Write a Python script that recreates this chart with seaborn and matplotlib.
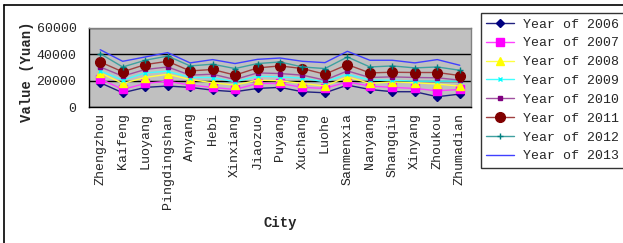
import matplotlib
matplotlib.use("Agg")
import matplotlib.pyplot as plt
from matplotlib.lines import Line2D
import seaborn as sns
import pandas as pd

cities = ["Zhengzhou", "Kaifeng", "Luoyang", "Pingdingshan", "Anyang", "Hebi",
          "Xinxiang", "Jiaozuo", "Puyang", "Xuchang", "Luohe", "Sanmenxia",
          "Nanyang", "Shangqiu", "Xinyang", "Zhoukou", "Zhumadian"]

y2006 = [18400, 10800, 14900, 15900, 14900, 12800, 11600, 14100, 14900, 11600, 10800, 16600, 13300, 11600, 11600, 7800, 9800]
y2007 = [21400, 13300, 17900, 19600, 16600, 14900, 13300, 17900, 17900, 14900, 14100, 19100, 15900, 14900, 14100, 12300, 13300]
y2008 = [25900, 17900, 22400, 24900, 20900, 18400, 16600, 20400, 19900, 17900, 15900, 22900, 17900, 19100, 18400, 17400, 15900]
y2009 = [27400, 20400, 25900, 27200, 22400, 22400, 19100, 23400, 22900, 21900, 19100, 24900, 20400, 20400, 19600, 19600, 19600]
y2010 = [30400, 23400, 28500, 30400, 24200, 24900, 20900, 25900, 25400, 24200, 20400, 27400, 22400, 22900, 22400, 22200, 20400]
y2011 = [34200, 26700, 32200, 34700, 27400, 28500, 24200, 29700, 31200, 29200, 24900, 32200, 25900, 26400, 26200, 26200, 23900]
y2012 = [40500, 30400, 35500, 38700, 31200, 32500, 29200, 33000, 34200, 30400, 29200, 38000, 30400, 31200, 29700, 30400, 27900]
y2013 = [43500, 34700, 38000, 41300, 33500, 36000, 33000, 36200, 37200, 34700, 33700, 42300, 35500, 35500, 33500, 36000, 31700]

series = {
    "Year of 2006": y2006, "Year of 2007": y2007, "Year of 2008": y2008,
    "Year of 2009": y2009, "Year of 2010": y2010, "Year of 2011": y2011,
    "Year of 2012": y2012, "Year of 2013": y2013,
}

# (line colour, marker colour, marker, marker size)
styles = {
    "Year of 2006": ("#202080", "#000080", "D", 4.5),
    "Year of 2007": ("#ff40ff", "#ff00ff", "s", 6),
    "Year of 2008": ("#ffff40", "#ffff00", "^", 6),
    "Year of 2009": ("#40ffff", "#00ffff", "x", 3.5),
    "Year of 2010": ("#a050a0", "#800080", "s", 3),
    "Year of 2011": ("#a04040", "#800000", "o", 7),
    "Year of 2012": ("#40a0a0", "#008080", "+", 4),
    "Year of 2013": ("#4040ff", "#0000ff", "", 0),
}

sns.set_style("white")
plt.rcParams["font.family"] = ["Liberation Mono", "DejaVu Sans Mono"]

fig = plt.figure(figsize=(6.23, 2.43), dpi=100)
ax = fig.add_axes([89 / 623, 1 - 107 / 243, 382 / 623, 79 / 243])
ax.set_facecolor("#c0c0c0")

handles = []
for name, vals in series.items():
    lc, mc, mk, ms = styles[name]
    df = pd.DataFrame({"City": cities, "Value": vals})
    sns.lineplot(data=df, x="City", y="Value", ax=ax, sort=False, color=lc,
                 marker=mk if mk else None, markersize=ms, markerfacecolor=mc,
                 markeredgecolor=mc, markeredgewidth=1, linewidth=1)
    handles.append(Line2D([], [], color=lc, marker=mk if mk else None,
                          markersize=ms, markerfacecolor=mc, markeredgecolor=mc,
                          linewidth=1, label=name))

ax.set_xlim(-0.5, len(cities) - 0.5)
ax.set_ylim(0, 60000)
ax.set_yticks([0, 20000, 40000, 60000])
ax.yaxis.grid(True, color="black", linewidth=1)
ax.set_axisbelow(True)
ax.set_xticks(range(len(cities)))
ax.set_xticklabels(cities, rotation=90, fontsize=9.5)
ax.set_xticks([i + 0.5 for i in range(len(cities) - 1)], minor=True)
ax.tick_params(axis="x", which="major", length=0, pad=4)
ax.tick_params(axis="x", which="minor", length=4, direction="in", width=1, color="black")
ax.tick_params(axis="y", length=0, labelsize=9.5, pad=9)
for s in ["top", "right"]:
    ax.spines[s].set_color("#808080")
for s in ["left", "bottom"]:
    ax.spines[s].set_color("black")
for s in ax.spines.values():
    s.set_linewidth(1)

ax.set_xlabel("City", fontsize=10, fontweight="bold", labelpad=5)
ax.set_ylabel("Value (Yuan)", fontsize=10, fontweight="bold")
ax.yaxis.set_label_coords(-0.145, 0.45)

leg = fig.legend(handles=handles, loc="upper left",
                 bbox_to_anchor=(481 / 623, 1 - 13 / 243), borderaxespad=0,
                 fontsize=9.5, frameon=True, fancybox=False, edgecolor="black",
                 handlelength=2.1, handletextpad=0.7, labelspacing=0.5,
                 borderpad=0.4)
leg.get_frame().set_linewidth(1)

# outer chart border
fig.add_artist(Line2D([4 / 623, 4 / 623], [0, 1 - 5 / 243], color="black", linewidth=1.2))
fig.add_artist(Line2D([4 / 623, 1], [1 - 5 / 243, 1 - 5 / 243], color="black", linewidth=1.2))

fig.savefig("out.png", dpi=100)
